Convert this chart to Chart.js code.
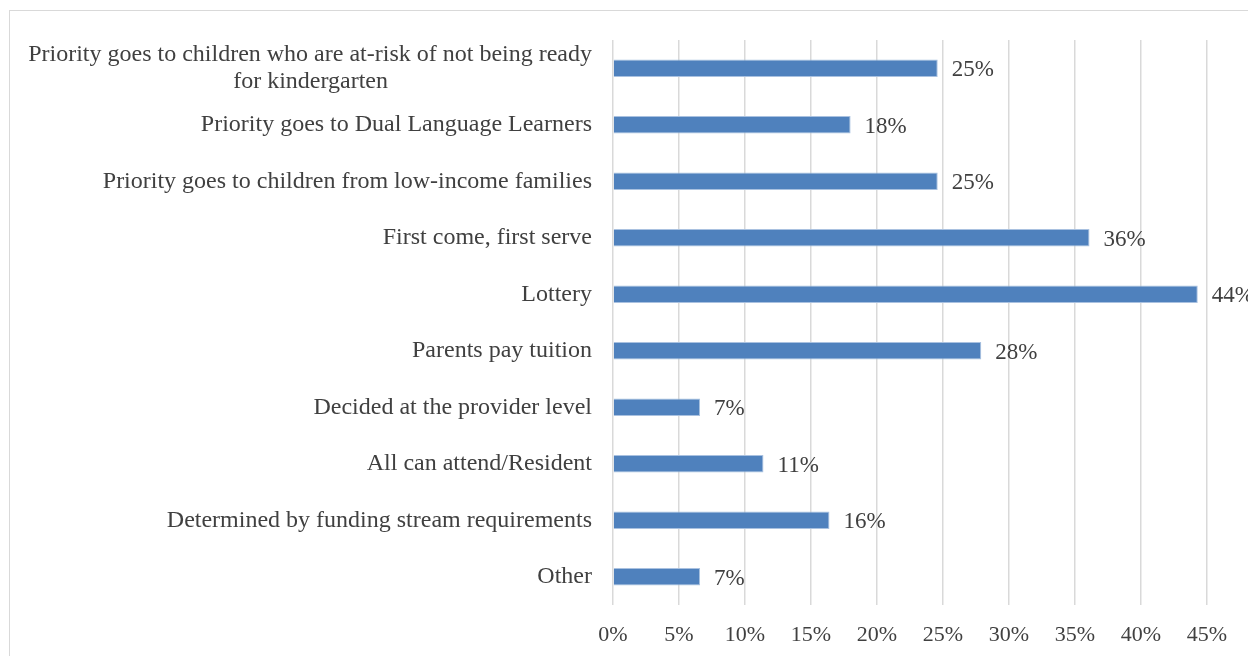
<!DOCTYPE html>
<html>
<head>
<meta charset="utf-8">
<script src="https://cdn.jsdelivr.net/npm/chart.js@4.4.1/dist/chart.umd.min.js"></script>
<style>
  html, body { margin: 0; padding: 0; background: #fff; }
  #wrap { position: relative; width: 1248px; height: 656px; overflow: hidden; }
  #frame { position: absolute; left: 9px; top: 10px; width: 1300px; height: 700px; border: 1.5px solid #d9d9d9; box-sizing: border-box; }
  #chart { position: absolute; left: 0; top: 0; }
</style>
</head>
<body>
<div id="wrap">
  <div id="frame"></div>
  <canvas id="chart" width="1248" height="656"></canvas>
</div>
<script>
// 入学优先方式
var categories = [
  ['Priority goes to children who are at-risk of not being ready', 'for kindergarten'],
  'Priority goes to Dual Language Learners',
  'Priority goes to children from low-income families',
  'First come, first serve',
  'Lottery',
  'Parents pay tuition',
  'Decided at the provider level',
  'All can attend/Resident',
  'Determined by funding stream requirements',
  'Other'
];
var shares = [24.6, 18.0, 24.6, 36.1, 44.3, 27.9, 6.6, 11.4, 16.4, 6.6];
var xTicks = [0, 5, 10, 15, 20, 25, 30, 35, 40, 45];

var FONT = '"Liberation Serif", "Times New Roman", serif';
var TEXT = '#404040';
var CAT_SIZE = 24;

// 第一个标签第二行居中
var measureCtx = document.createElement('canvas').getContext('2d');
function centerLines(lines, size) {
  measureCtx.font = size + 'px ' + FONT;
  var w0 = measureCtx.measureText(lines[0]).width;
  var sp = measureCtx.measureText(' ').width;
  return lines.map(function (l, i) {
    if (i === 0) return l;
    var pad = Math.round((w0 - measureCtx.measureText(l).width) / 2 / sp);
    return l + new Array(pad + 1).join(' ');
  });
}

var valueLabels = {
  id: 'valueLabels',
  afterDatasetsDraw: function (chart) {
    var ctx = chart.ctx;
    var meta = chart.getDatasetMeta(0);
    ctx.save();
    ctx.font = '23px ' + FONT;
    ctx.fillStyle = TEXT;
    ctx.textAlign = 'left';
    ctx.textBaseline = 'middle';
    meta.data.forEach(function (bar, i) {
      ctx.fillText(Math.round(shares[i]) + '%', bar.x + 14, bar.y + 2);
    });
    ctx.restore();
  }
};

var config = {
  type: 'bar',
  data: {
    labels: categories,
    datasets: [{
      data: shares,
      backgroundColor: '#4f81bd',
      borderColor: '#a9c1e0',
      borderWidth: { top: 1, bottom: 1, right: 1, left: 0 },
      borderSkipped: 'left',
      barPercentage: 0.31,
      categoryPercentage: 1
    }]
  },
  options: {
    indexAxis: 'y',
    responsive: false,
    animation: false,
    layout: { padding: { top: 40, right: 41, bottom: 0, left: 0 } },
    plugins: {
      legend: { display: false },
      tooltip: { enabled: false }
    },
    scales: {
      x: {
        min: 0,
        max: 45,
        afterBuildTicks: function (scale) {
          scale.ticks = xTicks.map(function (v) { return { value: v }; });
        },
        afterFit: function (scale) { scale.height = 51; },
        grid: { color: '#d9d9d9', lineWidth: 1.5, drawTicks: false },
        border: { display: false },
        ticks: {
          padding: 17,
          color: TEXT,
          font: { family: FONT, size: 22 },
          callback: function (v) { return v + '%'; }
        }
      },
      y: {
        afterFit: function (scale) { scale.width = 613; },
        grid: { display: false },
        border: { display: false },
        ticks: {
          autoSkip: false,
          padding: 13,
          color: TEXT,
          font: { family: FONT, size: CAT_SIZE, lineHeight: 1.12 },
          callback: function (v, i) {
            var l = categories[i];
            return Array.isArray(l) ? centerLines(l, CAT_SIZE) : l;
          }
        }
      }
    }
  },
  plugins: [valueLabels]
};

var ctx = document.getElementById('chart').getContext('2d');
window.myBar = new Chart(ctx, config);
</script>
</body>
</html>
